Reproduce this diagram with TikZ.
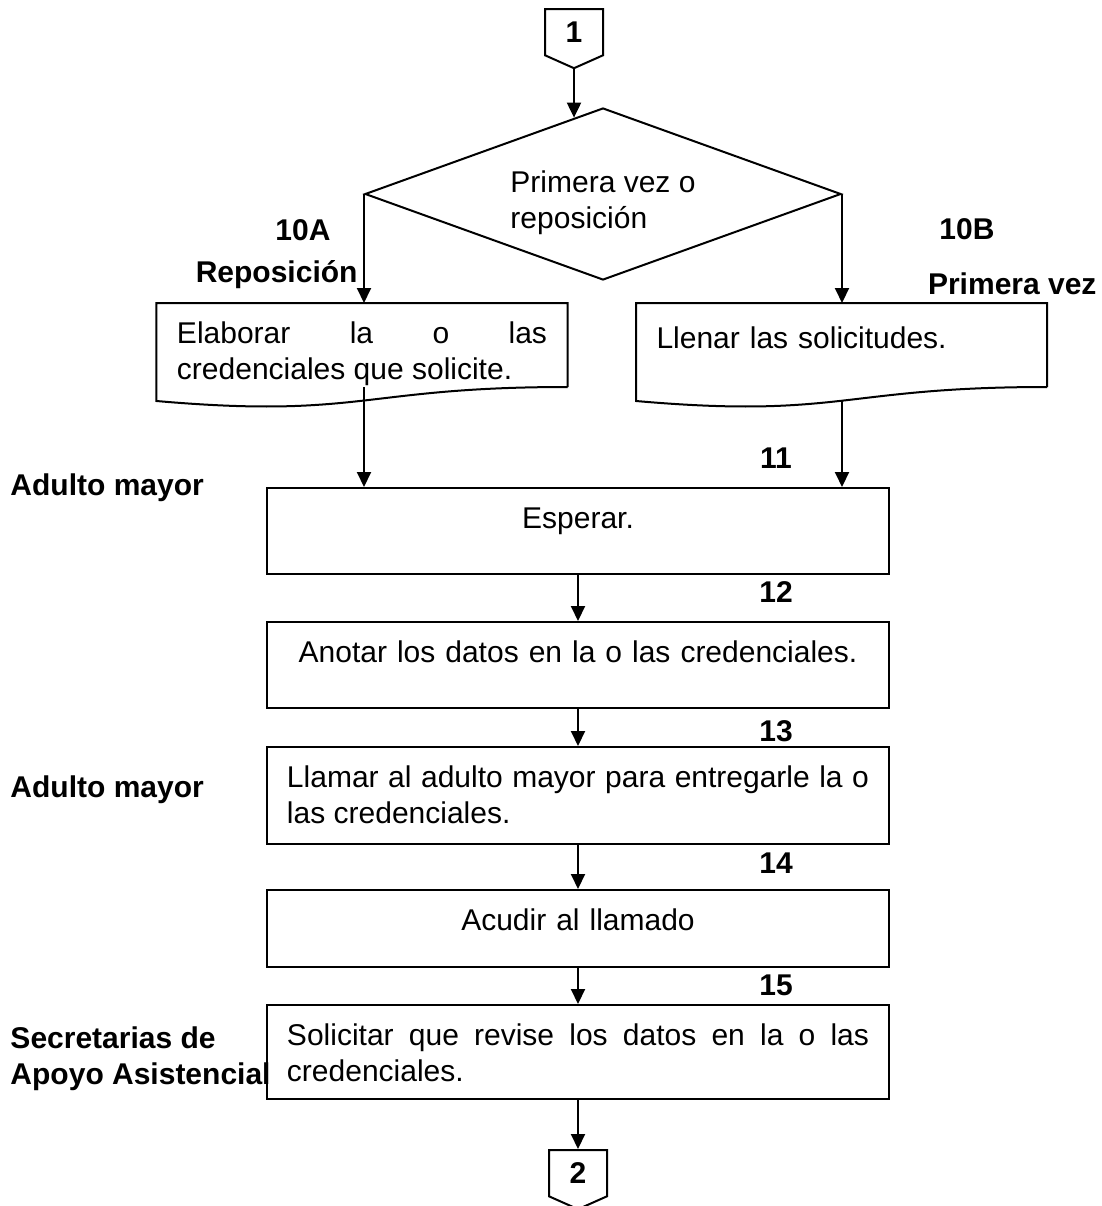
\documentclass[12pt,tikz,border=0pt]{standalone}
\usepackage{fontspec}
\setmainfont{Liberation Sans}
\usetikzlibrary{shapes,arrows.meta,calc}
\hyphenpenalty=10000
\tolerance=10000
\tikzstyle{block} = [rectangle, draw, line width=0.8pt, minimum width=248.8pt,
    text width=232.8pt, inner xsep=8pt, inner ysep=0pt, text height=16pt]
\tikzstyle{doc} = [rectangle, minimum width=164pt, text width=148pt,
    inner xsep=8pt, inner ysep=0pt, text height=16pt, text depth=17.2pt]
\tikzstyle{decision} = [diamond, draw, line width=0.8pt, aspect=2.77,
    minimum width=190.4pt, minimum height=68.8pt, inner sep=0pt, align=left]
\tikzstyle{connector} = [signal, signal to=south, signal pointer angle=132, draw,
    line width=0.8pt, minimum width=23.2pt, minimum height=20pt, inner sep=0pt, font=\bfseries]
\tikzstyle{tag} = [inner sep=0pt, font=\bfseries]
\tikzstyle{line} = [draw, line width=0.8pt, -{Triangle[length=6pt,width=5.6pt]}]

\begin{document}
\begin{tikzpicture}[x=0.4pt, y=-0.4pt]
    \useasboundingbox (0,0) rectangle (1101,1206);
    % Place nodes
    \node [connector, anchor=north] (in) at (574,8) {1};
    \node [decision, text height=30.4pt] (choice) at (603,194) {Primera vez o\\reposición};
    \node [doc, anchor=north, align=justify] (make) at (362,303) {Elaborar la o las credenciales que solicite.};
    \node [doc, anchor=north, align=left, text height=18pt, text depth=15.2pt] (fill) at (841.5,303) {Llenar las solicitudes.};
    \node [block, anchor=north, text depth=18.4pt, align=center] (wait) at (578,487) {Esperar.};
    \node [block, anchor=north, text depth=18.4pt, align=center] (note) at (578,621) {Anotar los datos en la o las credenciales.};
    \node [block, anchor=north, text depth=22.8pt, align=justify] (call) at (578,746) {Llamar al adulto mayor para entregarle la o las credenciales.};
    \node [block, anchor=north, text depth=14.8pt, align=center] (come) at (578,889) {Acudir al llamado};
    \node [block, anchor=north, text depth=21.6pt, align=justify] (check) at (578,1004) {Solicitar que revise los datos en la o las credenciales.};
    \node [connector, anchor=north] (out) at (578,1149) {2};
    % Step numbers
    \node [tag] (n10a) at (303,230) {10A};
    \node [tag, anchor=east] (nrep) at (358,275) {Reposición};
    \node [tag] (n10b) at (967,229) {10B};
    \node [tag, anchor=east] (nfirst) at (1097,284) {Primera vez};
    \node [tag] (n11) at (776,458) {11};
    \node [tag] (n12) at (776,592) {12};
    \node [tag] (n13) at (776,731) {13};
    \node [tag] (n14) at (776,863) {14};
    \node [tag] (n15) at (776,985) {15};
    % Who does it
    \node [tag, anchor=west] (who1) at (10,488) {Adulto mayor};
    \node [tag, anchor=west] (who2) at (10,790) {Adulto mayor};
    \node [tag, anchor=west, align=left] (who3) at (10,1059) {Secretarias de\\Apoyo Asistencial};
    % Document outlines
    \draw [line width=0.8pt] (make.south east) -- (make.north east) -- (make.north west) -- ([yshift=-5.6pt]make.south west)
        .. controls ([yshift=-12.8pt]make.south) and (make.south) .. (make.south east);
    \draw [line width=0.8pt] (fill.south east) -- (fill.north east) -- (fill.north west) -- ([yshift=-5.6pt]fill.south west)
        .. controls ([yshift=-12.8pt]fill.south) and (fill.south) .. (fill.south east);
    % Draw edges
    \coordinate (hit) at ($(choice.north)!0.122!(choice.west)$);
    \coordinate (fillout) at ($(choice.east |- fill.south)+(0,-5.6pt)$);
    \path [line] (in.south) -- (in.south |- hit);
    \path [line] (choice.west) -- (choice.west |- make.north);
    \path [line] (choice.east) -- (choice.east |- fill.north);
    \path [line] (choice.west |- make.south) -- (choice.west |- wait.north);
    \path [line] (fillout) -- (fillout |- wait.north);
    \path [line] (wait.south) -- (note.north);
    \path [line] (note.south) -- (call.north);
    \path [line] (call.south) -- (come.north);
    \path [line] (come.south) -- (check.north);
    \path [line] (check.south) -- (out.north);
\end{tikzpicture}
\end{document}
